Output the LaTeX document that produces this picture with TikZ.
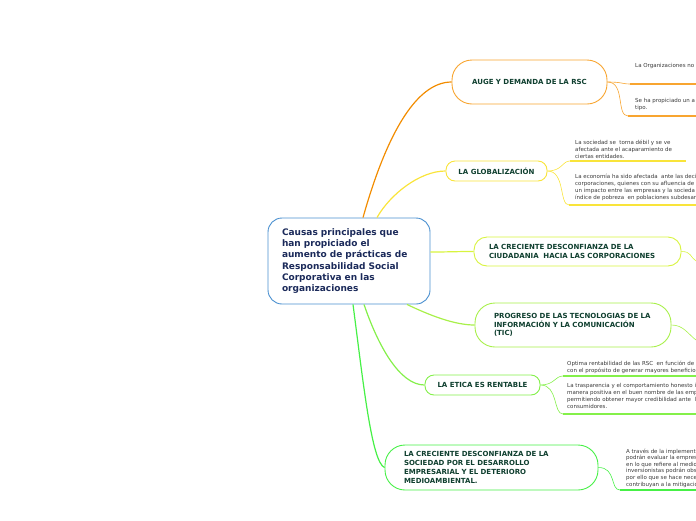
\documentclass[tikz,border=0pt]{standalone}
\usepackage{fontspec}
\setmainfont{DejaVu Sans}
\usetikzlibrary{calc}

\definecolor{rootblue}{HTML}{4A90D0}
\definecolor{roottext}{HTML}{1B2A5A}
\definecolor{topictext}{HTML}{0F3F2F}
\definecolor{notetext}{HTML}{3A3A3A}
\definecolor{augeline}{HTML}{F28C00}
\definecolor{auge}{HTML}{F8A530}
\definecolor{glob}{HTML}{F9E43A}
\definecolor{ciud}{HTML}{D8F43E}
\definecolor{tic}{HTML}{A8F04A}
\definecolor{etica}{HTML}{84F04A}
\definecolor{medio}{HTML}{46F046}

\newcommand{\rootfont}{\fontsize{9}{11.3}\selectfont\bfseries}
\newcommand{\topicfont}{\fontsize{7}{8.8}\selectfont\bfseries}
\newcommand{\notefont}{\fontsize{5.5}{7}\selectfont}

\tikzset{
  topic/.style={draw, line width=0.9pt, fill=white, text=topictext, font=\topicfont, inner ysep=0pt},
  note/.style={anchor=north west, inner sep=0pt, align=left, text=notetext, font=\notefont},
  mainlink/.style={line width=1.2pt},
  sublink/.style={line width=0.6pt},
  noteline/.style={line width=1.5pt},
}

\begin{document}
\begin{tikzpicture}[x=1pt,y=-1pt]
  \path[use as bounding box] (0,0) rectangle (696,520);
  \clip (0,0) rectangle (696,520);

  % central topic
  \node[draw=rootblue, line width=0.9pt, rounded corners=14pt, fill=white,
        minimum width=162pt, minimum height=86pt, text width=134pt, inner xsep=14pt,
        align=left, font=\rootfont, text=roottext] (root) at (349,261)
    {Causas principales que\\han propiciado el\\aumento de prácticas de\\Responsabilidad Social\\Corporativa en las\\organizaciones};

  % main topics
  \node[topic, draw=auge, rounded corners=20pt, minimum width=155pt, minimum height=44pt] (auge) at (529.5,82)
    {AUGE Y DEMANDA DE LA RSC};
  \node[topic, draw=glob, rounded corners=9pt, minimum width=101pt, minimum height=20pt] (glob) at (496.5,171)
    {LA GLOBALIZACIÓN};
  \node[topic, draw=ciud, rounded corners=13pt, minimum width=207pt, minimum height=29pt,
        text width=177pt, inner xsep=15pt, align=left] (ciud) at (577.5,251.5)
    {LA CRECIENTE DESCONFIANZA DE LA\\CIUDADANIA~ HACIA LAS CORPORACIONES};
  \node[topic, draw=tic, rounded corners=20pt, minimum width=196pt, minimum height=44pt,
        text width=158pt, inner xsep=19pt, align=left] (tic) at (573,325)
    {PROGRESO DE LAS TECNOLOGIAS DE LA\\INFORMACIÓN Y LA COMUNICACIÓN\\(TIC)};
  \node[topic, draw=etica, rounded corners=9pt, minimum width=115pt, minimum height=20pt] (etica) at (482.5,385)
    {LA ETICA ES RENTABLE};
  \node[topic, draw=medio, rounded corners=20pt, minimum width=213pt, minimum height=45pt,
        text width=175pt, inner xsep=19pt, align=left] (medio) at (491.5,467.5)
    {LA CRECIENTE DESCONFIANZA DE LA\\SOCIEDAD POR EL DESARROLLO\\EMPRESARIAL Y EL DETERIORO\\MEDIOAMBIENTAL.};

  % links from the central topic
  \draw[mainlink, augeline] ($(root.north)+(14,0)$) .. controls +(22,-78) and +(-37,0) .. (auge.west);
  \draw[mainlink, glob] ($(root.north)+(28,0)$) .. controls +(13,-23) and +(-26,0) .. (glob.west);
  \draw[mainlink, ciud] ($(root.east)+(0,-9)$) .. controls +(20,0) and +(-20,0) .. (ciud.west);
  \draw[mainlink, tic] ($(root.south)+(58,0)$) .. controls +(23,11) and +(-20,0) .. (tic.west);
  \draw[mainlink, etica] ($(root.south)+(15,0)$) .. controls +(14,41) and +(-25,0) .. (etica.west);
  \draw[mainlink, medio] ($(root.south)+(4,0)$) .. controls +(10,76) and +(-13,-5) .. (medio.west);

  % notes
  \coordinate (auge-a-l) at (630,84);
  \coordinate (auge-b-l) at (628,116);
  \node[note] (auge-a) at (635,63.5) {La Organizaciones no};
  \node[note] (auge-b) at (635,98.5) {Se ha propiciado un a\\tipo.};
  \draw[sublink, auge] (auge.east) .. controls +(15,0) and +(-8,0) .. (auge-a-l);
  \draw[sublink, auge] (auge.east) .. controls +(18,0) and +(-12,0) .. (auge-b-l);
  \draw[noteline, auge] (auge-a-l) -- (696,84);
  \draw[noteline, auge] (auge-b-l) -- (696,116);

  \coordinate (glob-a-l) at (570,161);
  \coordinate (glob-b-l) at (569,205);
  \node[note] (glob-a) at (575,139.5) {La sociedad se~ torna débil y se ve\\afectada ante el acaparamiento de\\ciertas entidades.};
  \node[note] (glob-b) at (575,173.5) {La economía ha sido afectada~ ante las deci\\corporaciones, quienes con su afluencia de\\un impacto entre las empresas y la socieda\\índice de pobreza~ en poblaciones subdesar};
  \draw[sublink, glob] (glob.east) .. controls +(15,0) and +(-8,0) .. (glob-a-l);
  \draw[sublink, glob] (glob.east) .. controls +(18,0) and +(-10,0) .. (glob-b-l);
  \draw[noteline, glob] (glob-a-l) -- (686,161);
  \draw[noteline, glob] (glob-b-l) -- (696,205);

  \coordinate (ciud-out) at (696,261);
  \draw[sublink, ciud] (ciud.east) .. controls +(10,0) and +(-6,-4) .. (ciud-out);
  \coordinate (tic-out) at (696,340);
  \draw[sublink, tic] (tic.east) .. controls +(12,0) and +(-8,-6) .. (tic-out);

  \coordinate (etica-a-l) at (563,376);
  \coordinate (etica-b-l) at (563,414);
  \node[note] (etica-a) at (567,360.5) {Optima rentabilidad de las RSC~ en función de\\con el propósito de generar mayores beneficio};
  \node[note] (etica-b) at (567,383.5) {La trasparencia y el comportamiento honesto i\\manera positiva en el buen nombre de las emp\\permitiendo obtener mayor credibilidad ante~ l\\consumidores.};
  \draw[sublink, etica] (etica.east) .. controls +(14,0) and +(-8,0) .. (etica-a-l);
  \draw[sublink, etica] (etica.east) .. controls +(18,0) and +(-10,0) .. (etica-b-l);
  \draw[noteline, etica] (etica-a-l) -- (696,376);
  \draw[noteline, etica] (etica-b-l) -- (696,414);

  \coordinate (medio-a-l) at (620,490);
  \node[note, font=\fontsize{5.5}{6.6}\selectfont] (medio-a) at (626,448.5) {A través de la implement\\podrán evaluar la empres\\en lo que refiere al medio\\inversionistas podrán obs\\por ello que se hace nece\\contribuyan a la mitigació};
  \draw[sublink, medio] (medio.east) .. controls +(18,0) and +(-10,0) .. (medio-a-l);
  \draw[noteline, medio] (medio-a-l) -- (696,490);
\end{tikzpicture}
\end{document}
